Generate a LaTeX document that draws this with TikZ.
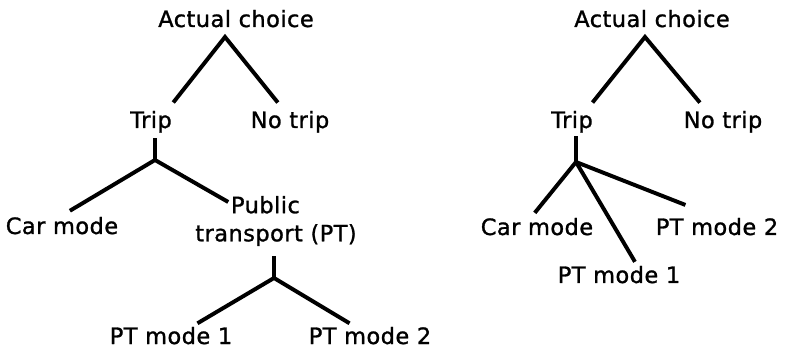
\documentclass[tikz,border=0pt]{standalone}
\usepackage{fontspec}
\newfontfamily\labfont[LetterSpace=2,FakeBold=1.2]{DejaVu Sans}
\begin{document}
\begin{tikzpicture}
[x=0.025cm,y=-0.025cm,
  lineDecorate/.style={-,line width=2.8pt,line join=miter},%
  nodeDecorate/.style={inner sep=2pt,anchor=base,text height=12pt,text depth=3.5pt,
    font=\labfont\fontsize{16pt}{20pt}\selectfont}]
\useasboundingbox (0,0) rectangle (786,352);
%% labels
\foreach \nodename/\x/\y/\txt in {
  actualL/236/27/Actual choice, tripL/151/128/Trip, noTripL/290/128/No trip,
  carL/62/234/Car mode, ptOneL/171/344/PT mode 1, ptTwoL/370/344/PT mode 2,
  actualR/652/27/Actual choice, tripR/572/128/Trip, noTripR/723/128/No trip,
  carR/537/235/Car mode, ptTwoR/717/235/PT mode 2, ptOneR/619/283/PT mode 1}
{
  \node (\nodename) at (\x,\y) [nodeDecorate] {\txt};
}
\node (pubL) at (276,193) [nodeDecorate,anchor=north,align=center,text height={},text depth={}]
  {Public\hspace*{15pt}\\transport (PT)};
%% branching points
\foreach \cname/\x/\y in {
  apexL/225/37, jL/155/160, jP/274/278, apexR/645/37, jR/576/162}
{
  \coordinate (\cname) at (\x,\y);
}
\coordinate (pubIn) at ([shift={(36,9)}]pubL.north west);
%% branches
\foreach \a/\sa/\j/\b/\sb in {
  tripL.38/5pt/apexL/noTripL.119/5pt, carL.80/4.5pt/jL/pubIn/0pt,
  ptOneL.29/1pt/jP/ptTwoL.144/1pt, tripR.41/5pt/apexR/noTripR.143/5pt,
  carR.106/2pt/jR/ptTwoR.113/19.6pt}
{
  \draw[lineDecorate,shorten <=\sa,shorten >=\sb] (\a) -- (\j) -- (\b);
}
%% stems
\path
\foreach \startnode/\endnode/\gap in {
  jL/tripL.south -| jL/1.5pt, jP/pubL.south -| jP/4.6pt,
  jR/tripR.south -| jR/0pt, jR/ptOneR.40/1pt}
{
  (\startnode) edge[lineDecorate,shorten >=\gap] (\endnode)
};
\end{tikzpicture}
\end{document}
